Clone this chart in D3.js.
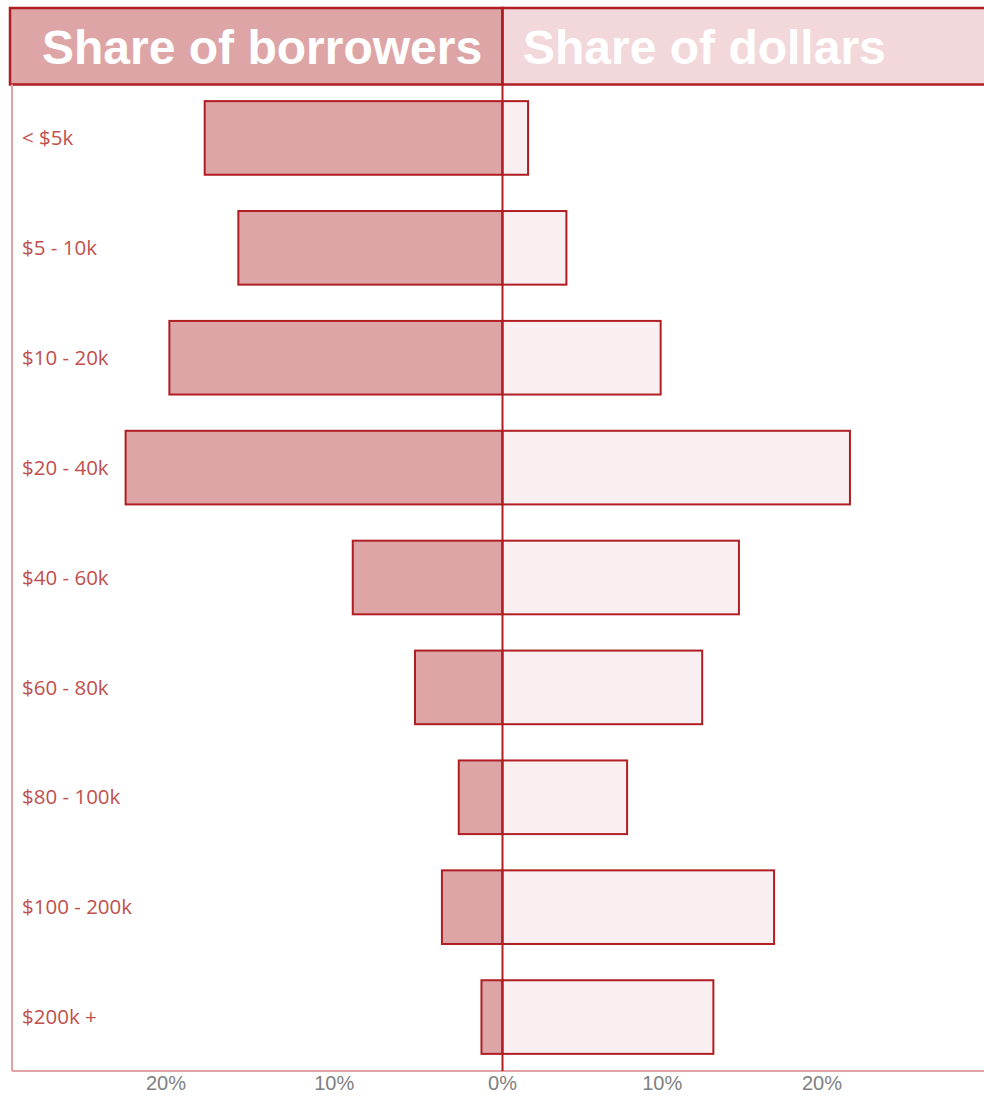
<!DOCTYPE html>
<html>
<head>
<meta charset="utf-8">
<script src="https://cdn.jsdelivr.net/npm/d3@7"></script>
<style>
  html, body { margin: 0; padding: 0; background: #ffffff; }
  svg { display: block; }
</style>
</head>
<body>
<svg id="chart" width="984" height="1096"></svg>
<script>
const categories = ["< $5k", "$5 - 10k", "$10 - 20k", "$20 - 40k", "$40 - 60k", "$60 - 80k", "$80 - 100k", "$100 - 200k", "$200k +"];
const shareBorrowers = [17.7, 15.7, 19.8, 22.4, 8.9, 5.2, 2.6, 3.6, 1.25];
const shareDollars = [1.6, 4.0, 9.9, 21.75, 14.8, 12.5, 7.8, 17.0, 13.2];
const tickValues = [20, 10, 0, 10, 20];
const panelTitles = ["Share of borrowers", "Share of dollars"];

const svg = d3.select("#chart");
const W = 984, H = 1096;
const x0 = 502.5, plotTop = 84.5, plotBottom = 1071, plotLeft = 12;

const xLeft = d3.scaleLinear().domain([0, 20]).range([x0, 166]);
const xRight = d3.scaleLinear().domain([0, 20]).range([x0, 822]);
const y = d3.scaleBand().domain(categories).range([83, 1072]).paddingInner(0.33).paddingOuter(0.165);

const darkRed = "#b01e23";
const leftFill = "#dea5a7";
const rightFill = "#f9eef0";

// Header panels
svg.append("rect").attr("x", 10).attr("y", 8).attr("width", x0 - 10).attr("height", plotTop - 8)
  .attr("fill", leftFill).attr("stroke", darkRed).attr("stroke-width", 2.5);
svg.append("rect").attr("x", x0).attr("y", 8).attr("width", W - x0 + 5).attr("height", plotTop - 8)
  .attr("fill", "#f2d8da").attr("stroke", darkRed).attr("stroke-width", 2.5);

svg.append("text").attr("x", 42).attr("y", 64).text(panelTitles[0])
  .attr("fill", "#ffffff").attr("font-family", "Liberation Sans, Arial, sans-serif")
  .attr("font-weight", "bold").attr("font-size", 48);
svg.append("text").attr("x", 523).attr("y", 64).text(panelTitles[1])
  .attr("fill", "#ffffff").attr("font-family", "Liberation Sans, Arial, sans-serif")
  .attr("font-weight", "bold").attr("font-size", 48);

// Frame lines
svg.append("line").attr("x1", plotLeft).attr("x2", plotLeft).attr("y1", plotTop).attr("y2", plotBottom)
  .attr("stroke", "#e2a3a5").attr("stroke-width", 2);
svg.append("line").attr("x1", plotLeft).attr("x2", W).attr("y1", plotBottom).attr("y2", plotBottom)
  .attr("stroke", "#e2a3a5").attr("stroke-width", 2);

// Bars
const rows = categories.map((c, i) => ({ c, b: shareBorrowers[i], d: shareDollars[i] }));

svg.append("g").selectAll("rect").data(rows).join("rect")
  .attr("x", d => xLeft(d.b))
  .attr("y", d => y(d.c))
  .attr("width", d => x0 - xLeft(d.b))
  .attr("height", y.bandwidth())
  .attr("fill", leftFill).attr("stroke", darkRed).attr("stroke-width", 2);

svg.append("g").selectAll("rect").data(rows).join("rect")
  .attr("x", x0)
  .attr("y", d => y(d.c))
  .attr("width", d => xRight(d.d) - x0)
  .attr("height", y.bandwidth())
  .attr("fill", rightFill).attr("stroke", darkRed).attr("stroke-width", 2);

// Center line
svg.append("line").attr("x1", x0).attr("x2", x0).attr("y1", 8).attr("y2", plotBottom)
  .attr("stroke", darkRed).attr("stroke-width", 2);

// Category labels
svg.append("g").selectAll("text").data(categories).join("text")
  .attr("x", 22)
  .attr("y", d => y(d) + y.bandwidth() / 2)
  .attr("dy", "0.35em")
  .text(d => d)
  .attr("fill", "#c0504d")
  .attr("font-family", "Open Sans, Lato, sans-serif")
  .attr("font-size", 20.5);

// Tick labels
const tickPos = tickValues.map((v, i) => i < 2 ? xLeft(v) : xRight(v));
svg.append("g").selectAll("text").data(tickValues).join("text")
  .attr("x", (d, i) => tickPos[i])
  .attr("y", 1090)
  .attr("text-anchor", "middle")
  .text(d => d + "%")
  .attr("fill", "#808080")
  .attr("font-family", "Liberation Sans, Arial, sans-serif")
  .attr("font-size", 20);
</script>
</body>
</html>
